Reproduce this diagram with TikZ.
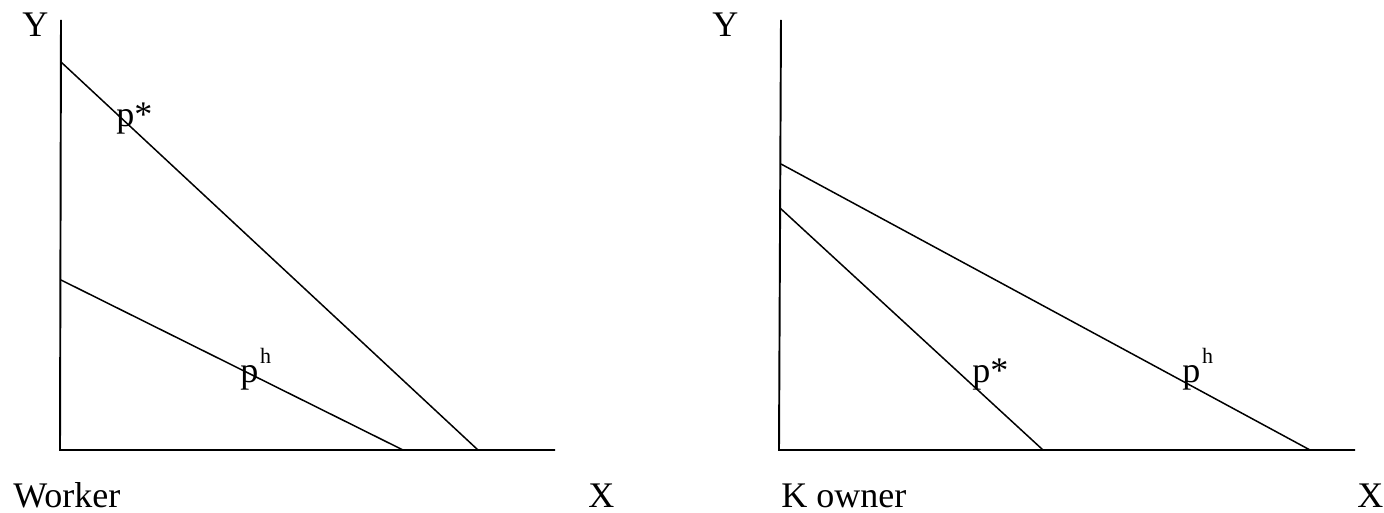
\documentclass[tikz,border=0pt]{standalone}
\usepackage{fontspec}
\setmainfont{Liberation Serif}
\usetikzlibrary{positioning}

\newcommand{\supsc}[1]{\hspace{1pt}\raisebox{11pt}{\fontsize{12.5}{12.5}\selectfont #1}}

\begin{document}
\begin{tikzpicture}[x=0.02cm, y=-0.02cm,
    axis/.style={line width=1.1pt, black},
    budget/.style={line width=0.85pt, black},
    lbl/.style={inner sep=0pt, anchor=base west, font=\fontsize{20.5}{24}\selectfont}]

      \useasboundingbox (0,0) rectangle (1384,513);

      % 1. Panel izquierdo (Worker)
      \coordinate (o1) at (60,450);
      \coordinate (ytop1) at (61,20);
      \coordinate (xend1) at (555,450);
      \draw[axis] (ytop1) -- (o1) -- (xend1);

      \coordinate (ps1a) at (61,62);
      \coordinate (ps1b) at (478,450);
      \draw[budget] (ps1a) -- (ps1b);

      \coordinate (ph1a) at (61,280);
      \coordinate (ph1b) at (403,450);
      \draw[budget] (ph1a) -- (ph1b);

      \node[lbl] (y1) at (22,37) {Y};
      \node[lbl] (star1) at (116,127) {p*};
      \node[lbl] (home1) at (240,383) {p\supsc{h}};
      \node[lbl] (who1) at (13,507) {Worker};
      \node[lbl] (x1) at (588,507) {X};

      % 2. Panel derecho (K owner)
      \coordinate (o2) at (779,450);
      \coordinate (ytop2) at (781,20);
      \coordinate (xend2) at (1355,450);
      \draw[axis] (ytop2) -- (o2) -- (xend2);

      \coordinate (ph2a) at (781,164);
      \coordinate (ph2b) at (1310,450);
      \draw[budget] (ph2a) -- (ph2b);

      \coordinate (ps2a) at (780,208);
      \coordinate (ps2b) at (1043,450);
      \draw[budget] (ps2a) -- (ps2b);

      \node[lbl] (y2) at (712,37) {Y};
      \node[lbl] (star2) at (972,383) {p*};
      \node[lbl] (home2) at (1182,383) {p\supsc{h}};
      \node[lbl] (who2) at (781,507) {K owner};
      \node[lbl] (x2) at (1357,507) {X};

\end{tikzpicture}
\end{document}
